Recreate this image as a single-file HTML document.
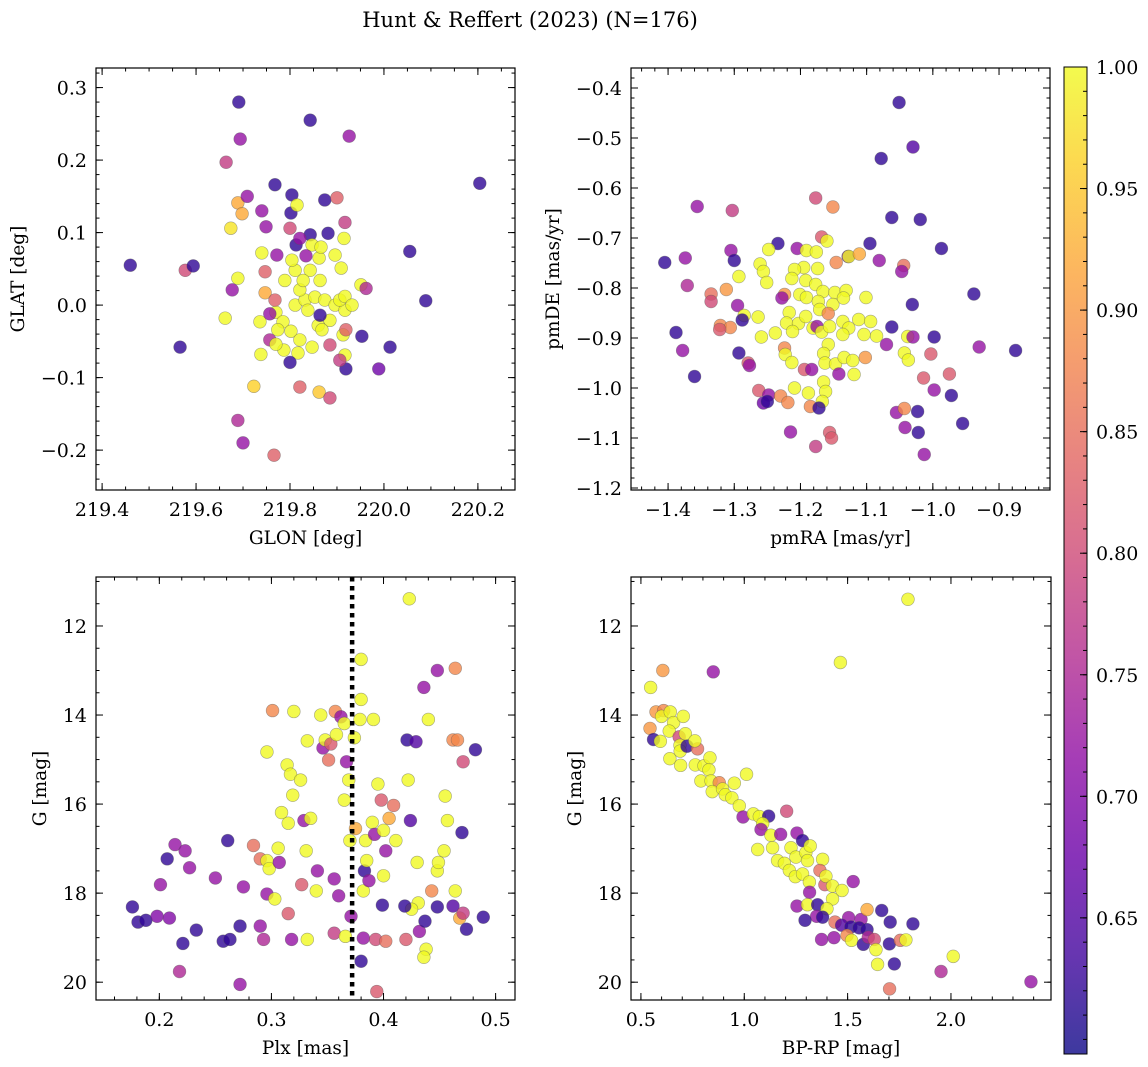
<!DOCTYPE html>
<html><head><meta charset="utf-8"><style>
body{margin:0;background:#fff;}
svg{display:block;font-family:"DejaVu Serif","Liberation Serif",serif;}
</style></head><body>
<svg id="fig" width="1148" height="1067" xmlns="http://www.w3.org/2000/svg">
<text x="530" y="27" font-size="21" text-anchor="middle">Hunt &amp; Reffert (2023) (N=176)</text>
</svg>
<script>
// Panel 1: GLON, GLAT, membership probability
const p1Glon=[219.460,219.566,219.577,219.594,219.691,219.694,219.664,219.843,219.926,220.204,220.055,220.089,220.013,219.989,219.953,219.919,219.689,219.700,219.766,219.821,219.862,219.885,219.723,219.738,219.662,219.689,219.674,219.689,219.698,219.709,219.740,219.768,219.804,219.874,219.900,219.917,219.915,219.749,219.802,219.815,219.800,219.677,219.747,219.747,219.951,219.962,219.909,219.843,219.881,219.847,219.862,219.834,219.770,219.785,219.802,219.821,219.774,219.811,219.832,219.853,219.874,219.896,219.917,219.906,219.885,219.860,219.838,219.821,219.811,219.843,219.789,219.804,219.828,219.864,219.864,219.868,219.913,219.919,219.917,219.885,219.736,219.757,219.847,219.817,219.787,219.757,219.770,219.800,219.813,219.768,219.917,219.906,219.932,219.896,219.866,219.740,219.772,219.821];
const p1Glat=[0.055,-0.058,0.048,0.054,0.280,0.229,0.197,0.255,0.233,0.168,0.074,0.006,-0.058,-0.088,-0.043,-0.088,-0.159,-0.190,-0.207,-0.113,-0.120,-0.128,-0.112,-0.068,-0.018,0.037,0.106,0.141,0.126,0.150,0.130,0.166,0.152,0.145,0.148,0.114,0.092,0.108,0.127,0.138,0.106,0.021,0.046,0.017,0.028,0.023,0.051,0.097,0.099,0.083,0.065,0.068,-0.010,-0.023,-0.036,-0.048,-0.034,0.000,0.007,0.011,0.007,0.000,-0.007,0.007,-0.021,-0.028,-0.007,0.021,0.048,0.048,0.034,0.062,0.034,0.034,-0.014,-0.034,-0.041,-0.034,-0.069,-0.055,-0.023,-0.012,-0.058,-0.066,-0.062,-0.048,-0.054,-0.079,0.083,0.007,0.012,-0.076,0.000,0.069,0.080,0.072,0.069,0.092];
const p1Prob=[.62,.62,.80,.62,.62,.72,.78,.62,.72,.62,.62,.62,.62,.68,.62,.62,.75,.72,.83,.83,.95,.80,.96,1,1,1,.98,.92,.92,.72,.72,.62,.62,.62,.83,.78,1,.72,.62,1,.80,.72,.83,.92,1,.75,1,.62,.62,1,1,.72,1,1,1,1,1,1,1,1,1,1,1,1,1,1,1,1,1,1,1,1,1,1,.62,1,1,.83,1,.80,1,.72,1,1,1,.75,1,.62,.62,.83,1,.78,1,1,1,1,.72,.72];
// Panel 2: pmRA, pmDE, probability
const p2Pmra=[-1.051,-1.030,-1.078,-1.356,-1.303,-1.177,-1.151,-1.062,-1.019,-0.987,-1.405,-1.374,-1.305,-1.300,-1.371,-1.234,-1.205,-1.168,-1.160,-1.095,-1.081,-1.128,-1.127,-1.111,-1.146,-1.044,-1.047,-0.938,-1.031,-1.248,-1.261,-1.256,-1.293,-1.251,-1.191,-1.176,-1.195,-1.209,-1.174,-1.213,-1.192,-1.177,-1.166,-1.148,-1.131,-1.101,-1.312,-1.335,-1.335,-1.224,-1.228,-1.201,-1.191,-1.173,-1.151,-1.135,-1.295,-1.285,-1.288,-1.264,-1.217,-1.221,-1.203,-1.192,-1.171,-1.158,-1.181,-1.175,-1.168,-1.156,-1.136,-1.127,-1.112,-1.094,-1.136,-1.104,-1.085,-1.212,-1.238,-1.259,-1.388,-1.321,-1.306,-1.322,-1.378,-1.360,-1.293,-1.279,-1.277,-1.224,-1.223,-1.213,-1.194,-1.183,-1.158,-1.165,-1.163,-1.147,-1.134,-1.121,-1.142,-1.119,-1.102,-1.062,-1.070,-1.038,-1.030,-0.998,-1.043,-1.037,-1.003,-0.930,-0.875,-1.014,-0.975,-0.998,-0.972,-0.955,-1.263,-1.248,-1.256,-1.250,-1.230,-1.219,-1.209,-1.188,-1.165,-1.162,-1.167,-1.185,-1.172,-1.055,-1.043,-1.023,-1.042,-1.022,-1.013,-1.215,-1.156,-1.153,-1.177];
const p2Pmde=[-0.429,-0.518,-0.541,-0.637,-0.645,-0.620,-0.638,-0.659,-0.663,-0.721,-0.749,-0.740,-0.725,-0.745,-0.795,-0.711,-0.721,-0.698,-0.706,-0.711,-0.745,-0.737,-0.737,-0.732,-0.749,-0.755,-0.767,-0.812,-0.833,-0.723,-0.752,-0.767,-0.777,-0.789,-0.725,-0.728,-0.759,-0.763,-0.761,-0.781,-0.785,-0.793,-0.807,-0.809,-0.805,-0.819,-0.803,-0.812,-0.827,-0.813,-0.820,-0.813,-0.819,-0.827,-0.833,-0.820,-0.835,-0.855,-0.864,-0.858,-0.849,-0.870,-0.871,-0.857,-0.843,-0.851,-0.880,-0.877,-0.888,-0.877,-0.867,-0.880,-0.863,-0.867,-0.893,-0.893,-0.896,-0.887,-0.890,-0.898,-0.889,-0.875,-0.879,-0.883,-0.925,-0.977,-0.930,-0.950,-0.955,-0.920,-0.933,-0.949,-0.963,-0.963,-0.913,-0.931,-0.950,-0.952,-0.939,-0.945,-0.972,-0.973,-0.939,-0.878,-0.913,-0.897,-0.898,-0.898,-0.930,-0.944,-0.932,-0.918,-0.925,-0.980,-0.972,-1.004,-1.015,-1.071,-1.005,-1.014,-1.030,-1.027,-1.016,-1.029,-1.000,-1.010,-0.988,-1.007,-1.027,-1.037,-1.040,-1.049,-1.041,-1.047,-1.079,-1.089,-1.133,-1.088,-1.089,-1.100,-1.117];
const p2Prob=[.62,.65,.62,.72,.78,.80,.88,.62,.62,.62,.62,.72,.72,.62,.75,.62,.72,.82,1,.62,.72,.70,1,.92,.88,.85,.72,.62,.62,1,1,1,1,1,1,1,1,1,1,1,1,1,1,1,1,1,.90,.85,.80,.90,.72,1,1,1,1,1,.72,1,.62,1,1,1,1,1,1,.88,1,.72,1,1,1,1,1,1,1,1,1,1,1,1,.62,.88,.88,.82,.72,.62,.62,.82,.72,.88,1,1,.82,.72,1,1,1,1,1,1,.72,1,.90,.62,.72,1,.72,.62,1,1,.82,.72,.62,.82,.82,.72,.62,.62,.82,.72,.68,.62,.88,.88,1,1,1,1,1,.88,.62,.72,.88,.62,.72,.62,.72,.72,.82,.82,.78];
// Panel 3: parallax, G, probability
const p3Plx=[0.176,0.181,0.188,0.198,0.209,0.201,0.207,0.214,0.218,0.221,0.223,0.227,0.233,0.250,0.257,0.263,0.261,0.272,0.275,0.272,0.284,0.290,0.293,0.296,0.290,0.296,0.298,0.303,0.306,0.307,0.315,0.318,0.296,0.301,0.320,0.309,0.315,0.314,0.317,0.319,0.326,0.329,0.332,0.331,0.327,0.332,0.335,0.341,0.340,0.344,0.346,0.348,0.351,0.353,0.357,0.358,0.362,0.365,0.367,0.369,0.365,0.356,0.360,0.356,0.366,0.371,0.374,0.375,0.370,0.380,0.380,0.379,0.380,0.382,0.382,0.383,0.385,0.384,0.387,0.390,0.392,0.391,0.395,0.398,0.400,0.399,0.400,0.402,0.405,0.409,0.411,0.394,0.393,0.402,0.422,0.421,0.429,0.436,0.440,0.448,0.464,0.423,0.424,0.430,0.431,0.425,0.432,0.420,0.419,0.437,0.438,0.436,0.443,0.448,0.449,0.448,0.454,0.457,0.455,0.462,0.466,0.462,0.464,0.468,0.471,0.482,0.489,0.474,0.471,0.470];
const p3G=[18.31,18.65,18.61,18.52,18.56,17.81,17.23,16.91,19.76,19.13,17.05,17.43,18.83,17.66,19.08,19.04,16.82,20.05,17.86,18.74,16.93,18.74,19.04,18.02,17.23,17.27,17.45,18.13,16.99,17.31,18.46,19.04,14.83,13.90,13.92,16.19,16.43,15.12,15.33,15.80,15.46,16.37,14.58,17.05,17.81,19.04,16.32,17.50,17.95,14.00,14.74,14.56,15.01,14.65,13.92,14.44,14.04,14.19,15.05,15.46,15.91,17.68,18.06,18.90,18.97,18.52,14.51,16.55,16.82,12.75,13.65,14.10,19.53,19.01,17.95,17.50,17.27,16.82,17.72,16.41,16.68,14.10,15.55,15.91,16.59,18.27,17.61,17.05,16.32,16.03,16.82,20.21,19.04,19.08,15.46,14.56,14.60,13.38,14.10,13.00,12.95,11.39,16.37,17.31,18.22,18.36,18.86,19.04,18.29,18.63,19.26,19.44,17.95,17.50,17.31,18.31,17.05,16.37,15.82,14.56,14.56,18.29,17.95,18.56,15.05,14.78,18.54,18.81,18.45,16.64];
const p3Prob=[.62,.62,.62,.70,.70,.72,.62,.72,.75,.62,.72,.72,.62,.72,.62,.62,.62,.72,.72,.62,.85,.72,.75,.72,.85,1,1,1,1,.72,.82,.72,1,.88,1,1,1,1,1,1,1,.72,1,1,.82,1,1,.72,1,1,.72,1,.85,.82,.88,1,.72,1,.72,1,1,.72,.72,.78,1,.72,1,.92,1,1,1,1,.62,.72,1,.62,1,1,.72,1,.72,1,1,.82,1,.62,1,.72,.92,.85,1,.82,.80,.85,1,.62,.65,.72,1,.72,.88,1,.65,1,1,1,.72,.82,.62,.62,1,1,.88,1,1,.62,1,1,1,.88,.88,.65,1,.92,.80,.62,.62,.62,.78,.62];
// Panel 4: BP-RP, G, probability
const p4Bprp=[1.792,1.465,0.606,0.850,0.547,0.544,0.561,0.573,0.610,0.600,0.642,0.658,0.705,0.637,0.594,0.685,0.715,0.689,0.690,0.723,0.774,0.761,0.640,0.692,0.763,0.805,0.834,0.829,0.790,0.839,0.879,0.845,0.895,0.908,0.952,0.940,0.976,1.011,0.994,1.044,1.073,1.118,1.089,1.081,1.129,1.176,1.205,1.255,1.282,1.065,1.137,1.161,1.194,1.226,1.250,1.298,1.319,1.306,1.379,1.366,1.218,1.247,1.282,1.315,1.316,1.390,1.395,1.427,1.473,1.527,1.427,1.255,1.306,1.355,1.400,1.350,1.294,1.379,1.439,1.505,1.565,1.594,1.665,1.706,1.816,1.471,1.516,1.556,1.594,1.374,1.434,1.497,1.519,1.576,1.600,1.629,1.637,1.702,1.755,1.782,1.645,1.726,2.011,1.952,2.387,1.703];
const p4G=[11.40,12.82,13.00,13.03,13.38,14.30,14.55,13.93,13.90,14.03,13.93,14.17,14.03,14.36,14.59,14.49,14.42,14.68,14.81,14.70,14.76,14.58,14.98,15.13,15.12,15.14,14.96,15.23,15.48,15.48,15.52,15.72,15.66,15.79,15.53,15.86,16.04,15.33,16.29,16.22,16.28,16.27,16.44,16.57,16.70,16.68,16.16,16.65,16.82,17.02,16.98,17.27,17.33,16.98,17.19,17.09,16.94,17.27,17.24,17.49,17.49,17.63,17.57,17.75,17.98,17.81,17.62,17.84,17.94,17.74,18.13,18.29,18.26,18.26,18.35,18.52,18.61,18.54,18.65,18.55,18.59,18.37,18.39,18.65,18.69,18.72,18.76,18.78,18.82,19.04,19.00,18.95,19.06,19.15,18.99,19.04,19.27,19.14,19.06,19.05,19.60,19.59,19.42,19.76,19.99,20.15];
const p4Prob=[1,1,.90,.72,1,.90,.62,.90,.88,1,1,1,1,1,1,.80,1,1,1,.62,.85,1,1,1,1,1,1,1,1,1,.88,1,1,1,1,1,1,1,.72,1,1,.62,1,.72,1,.72,.80,.72,.62,1,1,1,1,1,1,1,1,1,1,.85,1,1,1,1,.72,.82,1,1,1,.72,1,.72,1,.62,1,.72,.62,.62,.85,.72,.72,.92,.62,.62,.62,.65,.62,.62,.62,.72,.72,.88,1,.62,.75,.80,1,.62,.85,1,1,.62,1,.75,.72,.85];
const cbTicks=[0.65,0.70,0.75,0.80,0.85,0.90,0.95,1.00];
const plxCut=0.372;

const NS="http://www.w3.org/2000/svg";
const svg=document.getElementById('fig');
function mk(tag,attrs,parent){const e=document.createElementNS(NS,tag);for(const k in attrs)e.setAttribute(k,attrs[k]);(parent||svg).appendChild(e);return e;}
const vmin=0.594,vmax=1.0;
const stops=['#0d0887','#41049d','#6a00a8','#8f0da4','#b12a90','#cc4778','#e16462','#f2844b','#fca636','#fcce25','#f0f921'];
function hex(h){return [1,3,5].map(i=>parseInt(h.substr(i,2),16));}
function cmap(v){let t=(v-vmin)/(vmax-vmin);t=Math.max(0,Math.min(1,t));const f=t*10;const i=Math.min(9,Math.floor(f));const a=hex(stops[i]),b=hex(stops[i+1]);const u=f-i;return 'rgb('+a.map((x,k)=>Math.round(x+(b[k]-x)*u)).join(',')+')';}
const TF=19, LF=18.5;
function panel(cfg){
  const {name,x0,x1,y0,y1,xmin,xmax,ymin,ymax,invert,xs,ys,ps,xMajor,xMinor,yMajor,yMinor,xDec,yDec,xlabel,ylabel,ylOff}=cfg;
  const sx=v=>x0+(v-xmin)/(xmax-xmin)*(x1-x0);
  const sy=v=>invert? y0+(v-ymin)/(ymax-ymin)*(y1-y0) : y1-(v-ymin)/(ymax-ymin)*(y1-y0);
  const g=mk('g',{});
  
  
  const pts=mk('g',{},g);
  
  
  for(let i=0;i<xs.length;i++){
    const c=mk('circle',{cx:sx(xs[i]),cy:sy(ys[i]),r:6.4,fill:cmap(ps[i]),'fill-opacity':0.8,stroke:'#555','stroke-opacity':0.5,'stroke-width':0.6},pts);
    
    
  }
  if(cfg.extra) cfg.extra(g,sx,sy);
  const f=mk('rect',{x:x0,y:y0,width:x1-x0,height:y1-y0,fill:'none',stroke:'#000','stroke-width':1.2},g);
  
  
  const tk=mk('g',{stroke:'#000','stroke-width':1},g);
  const eps=1e-9;
  function ticksX(step,len,labels){
    const s=Math.ceil((xmin-eps)/step);
    for(let k=s;k*step<=xmax+eps;k++){const v=k*step;const X=sx(v);
      mk('line',{x1:X,y1:y1,x2:X,y2:y1-len},tk);mk('line',{x1:X,y1:y0,x2:X,y2:y0+len},tk);
      if(labels){const t=mk('text',{x:X,y:y1+26,'font-size':TF,'text-anchor':'middle'},g);t.textContent=v.toFixed(xDec).replace('-','\u2212');
        
        }}
  }
  function ticksY(step,len,labels){
    const lo=Math.min(ymin,ymax),hi=Math.max(ymin,ymax);
    const s=Math.ceil((lo-eps)/step);
    for(let k=s;k*step<=hi+eps;k++){const v=k*step;const Y=sy(v);
      mk('line',{x1:x0,y1:Y,x2:x0+len,y2:Y},tk);mk('line',{x1:x1,y1:Y,x2:x1-len,y2:Y},tk);
      if(labels){const t=mk('text',{x:x0-9,y:Y+7,'font-size':TF,'text-anchor':'end'},g);t.textContent=(Math.abs(v)<eps?0:v).toFixed(yDec).replace('-','\u2212');
        
        }}
  }
  ticksX(xMinor,3.5,false);ticksX(xMajor,7,true);ticksY(yMinor,3.5,false);ticksY(yMajor,7,true);
  const xl=mk('text',{x:(x0+x1)/2,y:y1+54,'font-size':LF,'text-anchor':'middle'},g);xl.textContent=xlabel;
  
  
  const yl=mk('text',{x:0,y:0,'font-size':LF,'text-anchor':'middle',transform:`translate(${x0-ylOff},${(y0+y1)/2}) rotate(-90)`},g);yl.textContent=ylabel;
  
  
}
panel({name:'glon-glat-panel',x0:96,x1:515,y0:68,y1:490,xmin:219.387,xmax:220.279,ymin:-0.255,ymax:0.327,xs:p1Glon,ys:p1Glat,ps:p1Prob,xMajor:0.2,xMinor:0.05,yMajor:0.1,yMinor:0.02,xDec:1,yDec:1,xlabel:'GLON [deg]',ylabel:'GLAT [deg]',ylOff:72});
panel({name:'proper-motion-panel',x0:631,x1:1050,y0:68,y1:490,xmin:-1.456,xmax:-0.823,ymin:-1.204,ymax:-0.36,xs:p2Pmra,ys:p2Pmde,ps:p2Prob,xMajor:0.1,xMinor:0.02,yMajor:0.1,yMinor:0.02,xDec:1,yDec:1,xlabel:'pmRA [mas/yr]',ylabel:'pmDE [mas/yr]',ylOff:72});
panel({name:'parallax-mag-panel',x0:96,x1:515,y0:577,y1:1000,xmin:0.1435,xmax:0.5173,ymin:10.90,ymax:20.40,invert:true,xs:p3Plx,ys:p3G,ps:p3Prob,xMajor:0.1,xMinor:0.02,yMajor:2,yMinor:0.5,xDec:1,yDec:0,xlabel:'Plx [mas]',ylabel:'G [mag]',ylOff:50,
  extra:(g,sx,sy)=>{const l=mk('line',{x1:sx(plxCut),y1:577,x2:sx(plxCut),y2:1000,stroke:'#000','stroke-width':4.5,'stroke-dasharray':'4.5,4.5'},g);
    
    }});
panel({name:'cmd-panel',x0:631,x1:1051,y0:577,y1:1000,xmin:0.452,xmax:2.484,ymin:10.90,ymax:20.40,invert:true,xs:p4Bprp,ys:p4G,ps:p4Prob,xMajor:0.5,xMinor:0.1,yMajor:2,yMinor:0.5,xDec:1,yDec:0,xlabel:'BP-RP [mag]',ylabel:'G [mag]',ylOff:50});

// colorbar
const cb=mk('g',{});


const defs=mk('defs',{},cb);
const grad=mk('linearGradient',{id:'pl',x1:0,y1:1,x2:0,y2:0},defs);
stops.forEach((s,i)=>mk('stop',{offset:i/10,'stop-color':s,'stop-opacity':0.8},grad));
const cbx0=1064,cbx1=1087,cby0=67,cby1=1054;
mk('rect',{x:cbx0,y:cby0,width:cbx1-cbx0,height:cby1-cby0,fill:'url(#pl)',stroke:'#000','stroke-width':1},cb);
const cy=v=>cby1-(v-vmin)/(vmax-vmin)*(cby1-cby0);
for(let v=0.60;v<=1.0001;v+=0.01){mk('line',{x1:cbx1,y1:cy(v),x2:cbx1-4,y2:cy(v),stroke:'#000'},cb);}
cbTicks.forEach(v=>{mk('line',{x1:cbx1,y1:cy(v),x2:cbx1-7,y2:cy(v),stroke:'#000'},cb);
  const t=mk('text',{x:cbx1+9,y:cy(v)+7,'font-size':TF},cb);t.textContent=v.toFixed(2);
  
  });
</script>
</body></html>
